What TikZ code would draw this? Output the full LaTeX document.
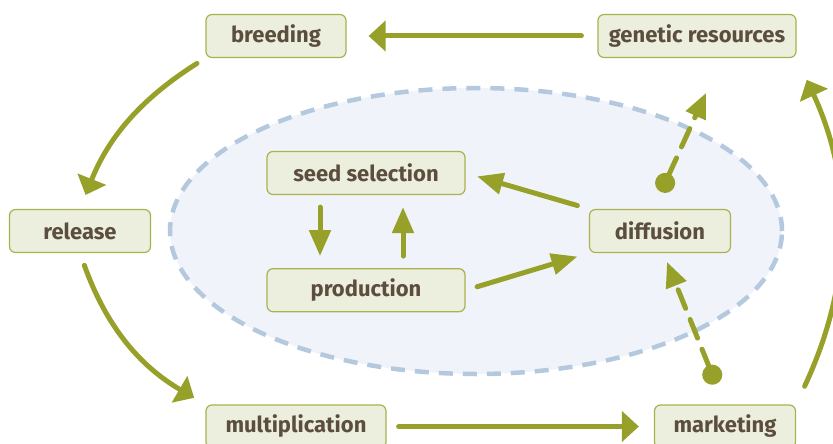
\documentclass[tikz,border=0pt]{standalone}
\usepackage{fontspec}
\setsansfont{Fira Sans}
\usetikzlibrary{arrows.meta,positioning}
\definecolor{leaf}{RGB}{151,161,42}
\definecolor{boxfill}{RGB}{236,238,222}
\definecolor{boxline}{RGB}{170,178,80}
\definecolor{ink}{RGB}{92,78,62}
\definecolor{poolfill}{RGB}{240,244,250}
\definecolor{poolline}{RGB}{180,200,222}
\begin{document}
\begin{tikzpicture}[x=1pt,y=-1pt,
  box/.style={draw=boxline, fill=boxfill, line width=1.2pt, rounded corners=6pt,
    minimum height=43pt, inner sep=0pt, text=ink, font=\sffamily\bfseries\fontsize{22}{26}\selectfont},
  outer/.style={draw=leaf, line width=5pt, line cap=round, -{Triangle[length=17pt,width=30pt]}},
  inner/.style={draw=leaf, line width=5pt, line cap=round, -{Triangle[length=26pt,width=21pt]}},
  hint/.style={draw=leaf, line width=5pt, line cap=round, dash pattern=on 20pt off 12pt,
    {Circle[length=20pt]}-{Triangle[length=25pt,width=21pt]}}]
\useasboundingbox (0,0) rectangle (833,444);
\clip (0,0) rectangle (833,444);

\draw[poolline, fill=poolfill, line width=4.5pt, dash pattern=on 14pt off 10pt]
  (476,231) ellipse [x radius=306pt, y radius=143pt];

\node[box, minimum width=140pt] (breed) at (276,36) {breeding};
\node[box, minimum width=198pt] (genres) at (697,36) {genetic resources};
\node[box, minimum width=141pt] (rel) at (80,231) {release};
\node[box, minimum width=198pt] (seed) at (366,173) {seed selection};
\node[box, minimum width=198pt, below=73pt of seed] (prod) {production};
\node[box, minimum width=141pt] (diff) at (660,231) {diffusion};
\node[box, minimum width=180pt] (mult) at (296,426.5) {multiplication};
\node[box, minimum width=141pt] (mkt) at (725,426.5) {marketing};

\coordinate (up1) at (661,192);
\coordinate (up2) at (706,93);
\coordinate (low1) at (716,384);
\coordinate (low2) at (667,262);

\draw[outer, shorten <=16pt, shorten >=22pt] (genres.west) -- (breed.east);
\draw[outer, shorten <=10pt, shorten >=15pt] (breed.south west) to[bend right=18] (rel.north);
\draw[outer, shorten <=13pt, shorten >=13pt] (rel.south) to[bend right=20] (mult.north west);
\draw[outer, shorten <=12pt, shorten >=15pt] (mult.east) -- (mkt.west);
\draw[outer, shorten <=20pt, shorten >=24pt] (mkt.north east) to[bend right=25] (genres.south east);

\draw[inner, shorten <=12pt, shorten >=12pt] ([xshift=-46pt]seed.south) -- ([xshift=-46pt]prod.north);
\draw[inner, shorten <=12pt, shorten >=12pt] ([xshift=37pt]prod.north) -- ([xshift=37pt]seed.south);
\draw[inner, shorten <=12pt, shorten >=12pt] (diff.north west) -- (seed.east);
\draw[inner, shorten <=12pt, shorten >=12pt] (prod.east) -- (diff.south west);

\draw[hint] (up1) -- (up2);
\draw[hint] (low1) -- (low2);
\end{tikzpicture}
\end{document}
